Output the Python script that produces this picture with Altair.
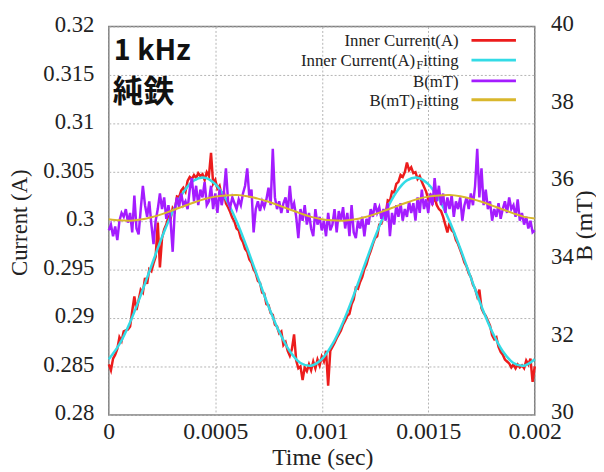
import altair as alt
import pandas as pd

# ---------------- data ----------------
TIME_STEP = 0.00001   # sampling of the measured traces (s)
FIT_STEP = 0.00005    # sampling of the fitted curves (s)

current_a = [
    0.2852, 0.2846, 0.2858, 0.2862, 0.2868, 0.2880, 0.2876, 0.2886, 0.2887, 0.2888,
    0.2891, 0.2907, 0.2922, 0.2908, 0.2918, 0.2929, 0.2926, 0.2941, 0.2935, 0.2950,
    0.2948, 0.2956, 0.2963, 0.2998, 0.2952, 0.2982, 0.2991, 0.2996, 0.3004, 0.3002,
    0.3013, 0.3010, 0.3025, 0.3024, 0.3031, 0.3034, 0.3030, 0.3041, 0.3045, 0.3043,
    0.3047, 0.3044, 0.3049, 0.3046, 0.3048, 0.3042, 0.3050, 0.3046, 0.3070, 0.3038,
    0.3042, 0.3033, 0.3036, 0.3026, 0.3030, 0.3018, 0.3014, 0.3009, 0.3003, 0.2999,
    0.2992, 0.2990, 0.2982, 0.2978, 0.2971, 0.2968, 0.2960, 0.2957, 0.2950, 0.2946,
    0.2938, 0.2936, 0.2926, 0.2925, 0.2914, 0.2913, 0.2905, 0.2903, 0.2893, 0.2891,
    0.2884, 0.2886, 0.2872, 0.2875, 0.2866, 0.2861, 0.2868, 0.2883, 0.2856, 0.2848,
    0.2850, 0.2836, 0.2849, 0.2845, 0.2852, 0.2846, 0.2855, 0.2848, 0.2857, 0.2851,
    0.2860, 0.2855, 0.2866, 0.2830, 0.2866, 0.2870, 0.2874, 0.2879, 0.2883, 0.2887,
    0.2893, 0.2897, 0.2902, 0.2904, 0.2914, 0.2919, 0.2931, 0.2930, 0.2937, 0.2942,
    0.2950, 0.2955, 0.2963, 0.2969, 0.2976, 0.2982, 0.2984, 0.2996, 0.2997, 0.3008,
    0.3007, 0.3021, 0.3020, 0.3030, 0.3029, 0.3038, 0.3040, 0.3047, 0.3045, 0.3050,
    0.3060, 0.3052, 0.3055, 0.3049, 0.3050, 0.3043, 0.3046, 0.3040, 0.3035, 0.3030,
    0.3022, 0.3026, 0.3018, 0.3024, 0.3016, 0.3012, 0.3010, 0.3004, 0.2996, 0.2988,
    0.2998, 0.2990, 0.2988, 0.2980, 0.2976, 0.2970, 0.2964, 0.2957, 0.2953, 0.2946,
    0.2942, 0.2934, 0.2930, 0.2922, 0.2929, 0.2910, 0.2905, 0.2902, 0.2897, 0.2892,
    0.2882, 0.2878, 0.2880, 0.2870, 0.2865, 0.2862, 0.2857, 0.2855, 0.2853, 0.2849,
    0.2852, 0.2848, 0.2852, 0.2849, 0.2851, 0.2848, 0.2856, 0.2852, 0.2858, 0.2834,
    0.2850,
]

b_mt = [
    34.75, 34.9, 34.6, 34.85, 34.5, 35.0, 35.2, 35.1, 35.3, 34.95,
    35.2, 34.7, 35.65, 34.8, 34.65, 35.3, 35.9, 35.4, 35.1, 35.5,
    34.9, 34.4, 35.0, 35.3, 35.7, 35.3, 35.6, 35.05, 35.4, 35.0,
    34.2, 35.3, 35.6, 35.35, 35.7, 35.4, 35.5, 35.3, 35.8, 36.1,
    35.5, 35.9, 35.4, 35.8, 35.6, 36.0, 35.4, 35.5, 35.9, 35.3,
    35.7, 35.2, 35.8, 35.4, 35.7, 36.35, 35.5, 35.35, 35.6, 35.45,
    35.3, 35.55, 35.4, 35.7, 35.9, 36.35, 35.6, 35.8, 34.7, 35.3,
    35.5, 35.25, 35.5, 35.35, 35.55, 35.85, 35.4, 36.85, 35.6, 35.3,
    35.5, 35.2, 35.45, 35.6, 35.2, 35.9, 35.3, 35.45, 35.1, 34.55,
    35.3, 35.0, 35.4, 34.9, 35.2, 34.8, 34.6, 35.3, 34.9, 35.1,
    34.75, 35.0, 34.6, 35.2, 34.75, 34.9, 35.3, 34.7, 35.25, 35.0,
    35.35, 34.8, 35.2, 34.6, 35.4, 34.7, 34.55, 35.0, 34.8, 35.1,
    34.6, 35.05, 34.9, 35.3, 35.1, 35.45, 35.2, 35.35, 35.05, 35.3,
    35.0, 35.45, 34.6, 35.2, 34.9, 35.4, 35.1, 35.45, 35.0, 35.3,
    35.1, 35.5, 35.2, 35.45, 35.0, 35.6, 35.2, 35.8, 35.3, 35.55,
    35.2, 35.7, 35.4, 36.1, 35.5, 35.9, 35.4, 35.7, 35.2, 35.6,
    35.3, 35.65, 35.1, 35.5, 35.3, 35.6, 35.0, 35.4, 35.6, 35.3,
    35.7, 35.4, 35.9, 36.85, 35.6, 36.35, 35.4, 35.8, 35.3, 35.5,
    35.0, 35.3, 35.1, 35.45, 35.05, 35.3, 35.5, 35.2, 35.6, 35.3,
    35.4, 35.1, 35.55, 35.0, 35.2, 34.9, 35.1, 34.8, 35.0, 34.7,
    34.75,
]

current_fit = [
    0.28573, 0.28728, 0.28955, 0.29233, 0.29536, 0.29832, 0.30093, 0.30294, 0.30415, 0.30443,
    0.30377, 0.30222, 0.29995, 0.29716, 0.29414, 0.29118, 0.28857, 0.28656, 0.28535, 0.28507,
    0.28573, 0.28728, 0.28955, 0.29233, 0.29536, 0.29832, 0.30093, 0.30294, 0.30415, 0.30443,
    0.30377, 0.30222, 0.29995, 0.29716, 0.29414, 0.29118, 0.28857, 0.28656, 0.28535, 0.28507,
    0.28573,
]

b_fit = [
    35.04, 35.01, 35.00, 35.03, 35.09, 35.17, 35.27, 35.37, 35.47, 35.56,
    35.62, 35.65, 35.66, 35.63, 35.57, 35.49, 35.39, 35.29, 35.19, 35.10,
    35.04, 35.01, 35.00, 35.03, 35.09, 35.17, 35.27, 35.37, 35.47, 35.56,
    35.62, 35.65, 35.66, 35.63, 35.57, 35.49, 35.39, 35.29, 35.19, 35.10,
    35.06,
]

x_ticks = [0, 0.0005, 0.001, 0.0015, 0.002]
left_ticks = [0.28, 0.285, 0.29, 0.295, 0.3, 0.305, 0.31, 0.315, 0.32]
right_ticks = [30, 32, 34, 36, 38, 40]

legend_labels = ["Inner Current(A)", "Inner Current(A)", "B(mT)", "B(mT)"]
legend_colors = ["#ec1c1c", "#33dbe6", "#a41cff", "#d9b72c"]

# ---------------- tables ----------------
cur_df = pd.DataFrame({"t": [i * TIME_STEP for i in range(len(current_a))], "I": current_a})
b_df = pd.DataFrame({"t": [i * TIME_STEP for i in range(len(b_mt))], "B": b_mt})
cfit_df = pd.DataFrame({"t": [i * FIT_STEP for i in range(len(current_fit))], "I": current_fit})
bfit_df = pd.DataFrame({"t": [i * FIT_STEP for i in range(len(b_fit))], "B": b_fit})

W, H = 431, 393
SERIF = "Liberation Serif, Times New Roman, Times, serif"
GRID = "#b4b4b4"
INK = "#222222"

x_scale = alt.Scale(domain=[0, 0.002], nice=False, zero=False)
yl_scale = alt.Scale(domain=[0.28, 0.32], nice=False, zero=False)
yr_scale = alt.Scale(domain=[30, 40], nice=False, zero=False)

x_axis = alt.Axis(values=x_ticks, format="~g", title="Time (sec)", grid=True,
                  gridDash=[2, 2], gridColor=GRID, domain=False, ticks=False,
                  labelPadding=5, labelFontSize=24, titleFontSize=24,
                  labelFont=SERIF, titleFont=SERIF, labelColor=INK, titleColor=INK,
                  titleFontWeight="normal",
                  titleX=216, titleY=50, titleBaseline="alphabetic", labelFlush=False)
X = alt.X("t:Q", scale=x_scale, axis=x_axis)

left_axis = alt.Axis(values=left_ticks, format="~g", title="Current (A)", grid=True,
                     gridDash=[2, 2], gridColor=GRID, domain=False, ticks=False,
                     labelPadding=15, labelFontSize=23, titleFontSize=23, labelOffset=-2,
                     labelFont=SERIF, titleFont=SERIF, labelColor=INK, titleColor=INK,
                     titleFontWeight="normal",
                     titleAngle=270, titleX=-90, titleY=198, titleAlign="center",
                     titleBaseline="middle", labelFlush=False)
right_axis = alt.Axis(values=right_ticks, orient="right", title="B (mT)", grid=False,
                      domain=False, ticks=False, labelPadding=16, labelFontSize=23,
                      labelOffset=-3,
                      labelFont=SERIF, titleFont=SERIF, labelColor=INK, titleColor=INK,
                      titleFontWeight="normal",
                      titleFontSize=24, titleAngle=270, titleX=50, titleY=201,
                      titleAlign="center", titleBaseline="middle", labelFlush=False)

red = alt.Chart(cur_df).mark_line(color=legend_colors[0], strokeWidth=2.5).encode(
    x=X, y=alt.Y("I:Q", scale=yl_scale, axis=left_axis),
)
cyan = alt.Chart(cfit_df).mark_line(color=legend_colors[1], strokeWidth=2.5,
                                    interpolate="catmull-rom").encode(
    x=X, y=alt.Y("I:Q", scale=yl_scale, axis=None))
purple = alt.Chart(b_df).mark_line(color=legend_colors[2], strokeWidth=2.5).encode(
    x=X, y=alt.Y("B:Q", scale=yr_scale, axis=right_axis))
yellow = alt.Chart(bfit_df).mark_line(color=legend_colors[3], strokeWidth=2,
                                      interpolate="catmull-rom").encode(
    x=X, y=alt.Y("B:Q", scale=yr_scale, axis=None))

one = pd.DataFrame({"a": [0]})

def text_at(txt, x, y, size, align="right", font=SERIF, weight="normal", color=INK):
    return alt.Chart(one).mark_text(text=txt, align=align, baseline="alphabetic",
                                    font=font, fontSize=size, fontWeight=weight,
                                    color=color).encode(x=alt.value(x), y=alt.value(y))

def seg_at(color, x1, x2, y):
    return alt.Chart(one).mark_rule(color=color, strokeWidth=3).encode(
        x=alt.value(x1), x2=alt.value(x2), y=alt.value(y))

row_base = [20, 40, 61, 80]
legend_layers = []
for i, lab in enumerate(legend_labels):
    if i % 2 == 0:
        legend_layers.append(text_at(lab, 354, row_base[i], 17))
    else:
        legend_layers.append(text_at("itting", 354, row_base[i], 17))
        legend_layers.append(text_at("F", 318, row_base[i] + 3, 12))
        legend_layers.append(text_at(lab + " ", 310, row_base[i], 17))
    legend_layers.append(seg_at(legend_colors[i], 367, 412, row_base[i] - 6))

note1 = text_at("1 kHz", 5, 34, 29, align="left", font="Noto Sans CJK JP", weight="bold", color="#111")
note2 = text_at("純鉄", 4, 76, 31, align="left", font="Noto Sans CJK JP", weight="bold", color="#111")

chart = alt.layer(red, cyan, purple, yellow, note1, note2, *legend_layers).resolve_scale(
    y="independent"
).properties(
    width=W, height=H,
    autosize=alt.AutoSizeParams(type="none"),
    padding={"left": 102, "top": 16, "right": 62, "bottom": 54},
).configure_view(
    stroke="#7f7f7f", strokeWidth=1.5
).configure_axis(
    labelFont=SERIF, titleFont=SERIF, labelColor=INK, titleColor=INK,
    titleFontWeight="normal",
)

chart.save("out.html", embed_options={"renderer": "svg", "actions": False})
